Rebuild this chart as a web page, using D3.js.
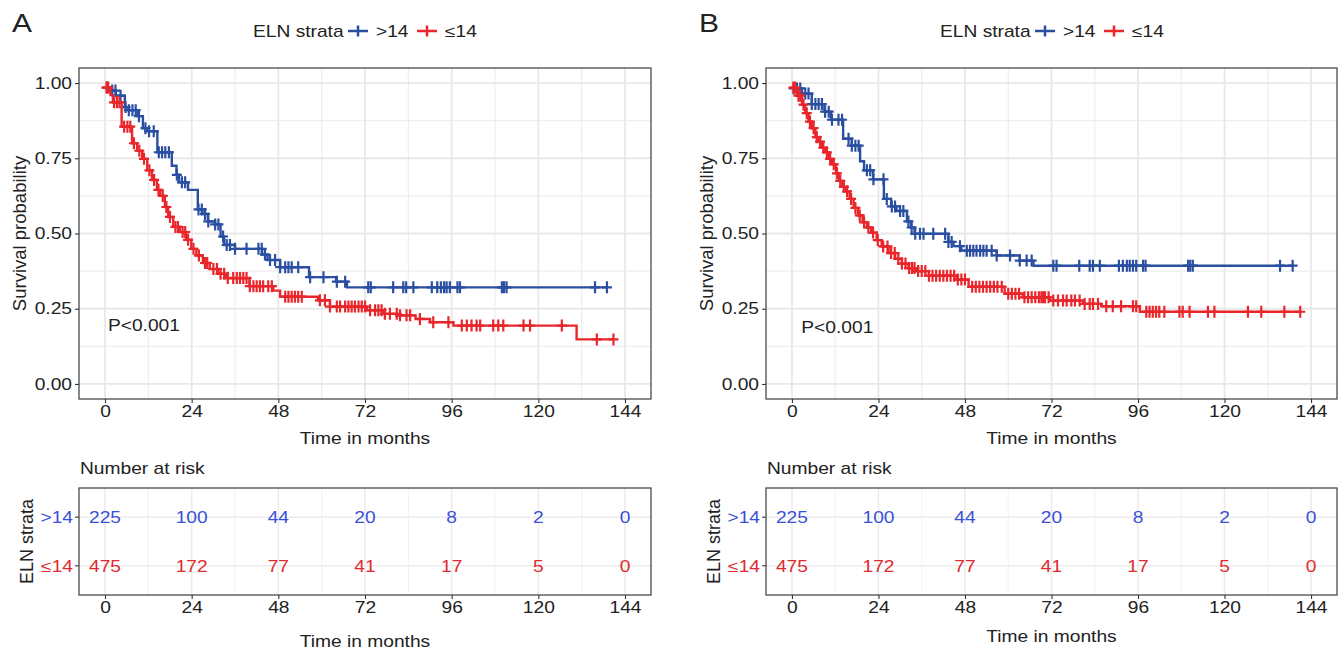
<!DOCTYPE html>
<html>
<head>
<meta charset="utf-8">
<script src="https://cdn.jsdelivr.net/npm/d3@7"></script>
<style>
  body { margin: 0; background: #fff; }
  svg text { font-family: "Liberation Sans", Arial, Helvetica, sans-serif; }
</style>
</head>
<body>
<div id="chart"></div>
<script>
// shared values
const months = [0, 24, 48, 72, 96, 120, 144]
const survTicks = [0, 0.25, 0.5, 0.75, 1]
const strata = [">14", "≤14"]
const riskHigh = [225, 100, 44, 20, 8, 2, 0]
const riskLow = [475, 172, 77, 41, 17, 5, 0]
const pLabel = "P<0.001"

// panel A, ELN > 14
const aHighTime = [0, 1.5, 3, 5.5, 6.5, 9, 10.5, 12, 14.5, 18.5, 19.8, 20.5, 23, 25.7, 27, 28.5, 30.5, 32, 33, 36, 43.5, 45, 48.5, 56.5, 64, 67]
const aHighSurv = [0.985, 0.975, 0.958, 0.92, 0.91, 0.89, 0.85, 0.84, 0.77, 0.725, 0.695, 0.67, 0.645, 0.58, 0.565, 0.54, 0.53, 0.49, 0.462, 0.449, 0.43, 0.412, 0.388, 0.355, 0.34, 0.321]
const aHighCens = [0.6, 2, 2.9, 4.3, 5.7, 6.6, 7.6, 8.5, 9.4, 11.2, 12.2, 13.5, 14.9, 15.8, 16.7, 17.7, 19.9, 21.3, 22.2, 25.9, 26.8, 27.7, 28.6, 30.5, 31.4, 32.7, 33.7, 34.6, 36, 39.2, 42.5, 43.4, 44.3, 45.7, 47.1, 48.5, 49.9, 50.8, 51.7, 53.5, 56.8, 60.5, 64.2, 66.5, 72.9, 73.6, 79.8, 82.6, 83.4, 85.4, 90.5, 92, 93, 93.9, 94.6, 95.5, 97.6, 98.3, 109.9, 110.5, 111.2, 135.7, 139]

// panel A, ELN <= 14
const aLowTime = [0, 1.5, 2.2, 4.6, 7.5, 8.9, 10.3, 11.7, 13, 14.4, 15.3, 16.6, 17.5, 18.9, 20.7, 22.5, 23.9, 25.3, 27.1, 29, 31.3, 33.5, 40, 46.6, 48.5, 59, 62.3, 72.5, 77, 81, 86, 90, 96.5, 130.6]
const aLowSurv = [0.985, 0.96, 0.936, 0.855, 0.8, 0.775, 0.748, 0.71, 0.678, 0.645, 0.625, 0.588, 0.555, 0.522, 0.505, 0.479, 0.449, 0.427, 0.402, 0.382, 0.366, 0.352, 0.325, 0.31, 0.29, 0.278, 0.257, 0.245, 0.233, 0.228, 0.216, 0.205, 0.194, 0.148]
const aLowCens = [0.4, 0.9, 2.5, 3.3, 4, 5.3, 6.2, 7, 8, 9.5, 10.8, 12.3, 13.6, 14.8, 16, 17, 18, 19.5, 20.2, 21.5, 22.2, 23, 24.5, 26, 27.7, 28.3, 30, 31, 32, 33, 34, 35.5, 36.5, 37.4, 38.3, 39.2, 40.1, 41.1, 42, 42.9, 43.8, 45.2, 46.2, 49.9, 50.8, 51.7, 52.6, 53.5, 54.5, 59.5, 60.9, 62.3, 64.2, 65.1, 66.5, 67.4, 68.3, 69.2, 70.2, 71.1, 72, 73.4, 74.8, 75.7, 76.6, 77.5, 78.9, 80.8, 81.7, 83.5, 84.5, 87.2, 90.9, 95.1, 98.8, 100.2, 101.5, 102.9, 103.9, 107.5, 108.9, 110.3, 115.9, 117.7, 126.5, 136.2, 140.8]

// panel B, ELN > 14
const bHighTime = [0, 2.8, 5.5, 9, 10.8, 14.2, 16.6, 18.9, 20, 22.5, 25.5, 27.5, 29, 31.9, 33, 34, 43.4, 44.8, 47, 56.8, 63.2, 67]
const bHighSurv = [0.982, 0.965, 0.93, 0.905, 0.878, 0.815, 0.792, 0.74, 0.71, 0.68, 0.615, 0.59, 0.575, 0.54, 0.52, 0.499, 0.472, 0.458, 0.443, 0.427, 0.41, 0.393]
const bHighCens = [0.5, 1.4, 2.3, 3.7, 4.6, 5.5, 6.5, 7.4, 8.3, 9.2, 10.2, 11.1, 12.9, 13.9, 15.7, 16.6, 17.6, 18.5, 20.8, 21.7, 22.6, 25.4, 26.3, 27.7, 28.6, 30, 30.9, 32.3, 33.2, 34.2, 35.5, 36.5, 39.2, 42.5, 43.4, 44.3, 46.6, 48.5, 49.4, 50.3, 51.2, 52.2, 53.1, 54, 55.4, 56.8, 60.5, 63.2, 65.1, 66.5, 72.5, 73.4, 79.7, 82.6, 83.5, 85.4, 90.7, 91.8, 92.9, 93.7, 94.6, 95.5, 97.4, 98.1, 109.9, 110.5, 111.2, 135.4, 138.9]

// panel B, ELN <= 14
const bLowTime = [0, 1.4, 2.8, 3.7, 4.6, 5.5, 6.5, 7.4, 8.3, 9.2, 10.2, 11.1, 12.2, 13, 14, 15, 16, 17.1, 18.3, 19.6, 20.8, 22, 23.5, 24.9, 26.8, 28.6, 30.5, 32.3, 34.5, 38, 45.7, 49, 59, 64, 71.5, 80.8, 85.8, 96.5]
const bLowSurv = [0.985, 0.958, 0.928, 0.9, 0.872, 0.85, 0.82, 0.805, 0.785, 0.77, 0.748, 0.73, 0.7, 0.675, 0.655, 0.64, 0.615, 0.585, 0.56, 0.537, 0.52, 0.503, 0.478, 0.457, 0.435, 0.416, 0.4, 0.385, 0.375, 0.36, 0.347, 0.323, 0.3, 0.288, 0.277, 0.266, 0.258, 0.24]
const bLowCens = [0.4, 0.9, 1.8, 2.3, 3.2, 4.1, 5, 6, 6.9, 7.8, 8.7, 9.7, 10.6, 11.6, 12.5, 13.4, 14.4, 15.3, 16.4, 17.6, 18.8, 20, 21.2, 22.5, 23.8, 25.3, 26.5, 27.5, 28.5, 29.5, 30.5, 31.5, 32.5, 33.3, 34, 35, 36, 37, 38, 39, 40, 41, 42, 43, 44, 45, 46, 47, 48, 50, 51, 52, 53, 54, 55, 56, 57, 58.2, 60, 61, 62, 63, 64.5, 65.5, 66.5, 67.5, 68.5, 69.2, 69.7, 70.2, 71.2, 72.5, 73.8, 75.2, 76.2, 77.5, 78.5, 79.8, 81.2, 82.6, 83.5, 84.9, 87.2, 89, 91.3, 94.6, 95.5, 98.3, 99.2, 100.1, 101, 101.9, 103.3, 107.5, 108.4, 110.3, 115.4, 117.2, 126.5, 130.2, 136.6, 141]

const lineColors = { high: "#2a4fa1", low: "#e8262b" }
const textColors = { high: "#3b50d8", low: "#e02a2f" }

const dimensions = {
  width: 1339,
  height: 652,
  plotTop: 68,
  plotBottom: 399,
  tableTop: 488,
  tableBottom: 595,
}

// the figure is stretched horizontally, so horizontal text is too
const SX = 1.2
const textFill = "#222"

const svg = d3
  .select("#chart")
  .append("svg")
  .attr("width", dimensions.width)
  .attr("height", dimensions.height)

function label(parent, x, y, txt, opts = {}) {
  const t = parent
    .append("text")
    .attr("transform", opts.rotate
      ? `translate(${x},${y}) rotate(-90)`
      : `translate(${x},${y}) scale(${opts.sx || SX},1)`)
    .attr("text-anchor", opts.anchor || "start")
    .attr("font-size", opts.size || 16)
    .attr("fill", opts.fill || textFill)
    .text(txt)
  return t
}

function survAt(time, surv, t) {
  return surv[Math.max(0, d3.bisectRight(time, t) - 1)]
}

function styleAxis(g) {
  g.select(".domain").remove()
  g.selectAll(".tick line").attr("stroke", "#333").attr("stroke-width", 1.1)
  g.selectAll(".tick text")
    .attr("font-size", 16)
    .attr("fill", textFill)
    .attr("font-family", '"Liberation Sans", Arial, sans-serif')
}

function drawPanel(p) {
  const xScale = d3.scaleLinear().domain([-7.2, 151.2]).range([p.left, p.right])
  const yScale = d3.scaleLinear().domain([-0.05, 1.05]).range([dimensions.plotBottom, dimensions.plotTop])
  const ctr = svg.append("g")
  const mid = (p.left + p.right) / 2

  // panel letter
  label(ctr, p.left - 67, 32, p.letter, { size: 25 })

  // legend
  const lg = ctr.append("g")
  label(lg, p.legendX, 37, "ELN strata")
  const keys = [
    { key: "high", text: strata[0], x: p.legendX + 105 },
    { key: "low", text: strata[1], x: p.legendX + 174 },
  ]
  keys.forEach(k => {
    lg.append("path")
      .attr("d", `M${k.x - 10},31H${k.x + 10}M${k.x},25.5V36.5`)
      .attr("stroke", lineColors[k.key])
      .attr("stroke-width", 2.5)
      .attr("fill", "none")
    label(lg, k.x + 18, 37, k.text)
  })

  // grid
  const minorX = d3.range(12, 144, 24)
  const minorY = d3.range(0.125, 1, 0.25)
  const grid = ctr.append("g")
  grid.selectAll(".mx").data(minorX).join("line")
    .attr("x1", d => xScale(d)).attr("x2", d => xScale(d))
    .attr("y1", dimensions.plotTop).attr("y2", dimensions.plotBottom)
    .attr("stroke", "#eeeeee").attr("stroke-width", 1.2)
  grid.selectAll(".my").data(minorY).join("line")
    .attr("y1", d => yScale(d)).attr("y2", d => yScale(d))
    .attr("x1", p.left).attr("x2", p.right)
    .attr("stroke", "#eeeeee").attr("stroke-width", 1.2)
  grid.selectAll(".Mx").data(months).join("line")
    .attr("x1", d => xScale(d)).attr("x2", d => xScale(d))
    .attr("y1", dimensions.plotTop).attr("y2", dimensions.plotBottom)
    .attr("stroke", "#e8e8e8").attr("stroke-width", 1.8)
  grid.selectAll(".My").data(survTicks).join("line")
    .attr("y1", d => yScale(d)).attr("y2", d => yScale(d))
    .attr("x1", p.left).attr("x2", p.right)
    .attr("stroke", "#e8e8e8").attr("stroke-width", 1.8)

  // curves
  const lineGen = d3.line()
    .x(d => xScale(d[0]))
    .y(d => yScale(d[1]))
    .curve(d3.curveStepAfter)

  p.series.forEach(s => {
    const end = d3.max(s.cens)
    const pts = s.time.map((t, i) => [t, s.surv[i]])
    pts.push([end, s.surv[s.surv.length - 1]])
    ctr.append("path")
      .attr("d", lineGen(pts))
      .attr("fill", "none")
      .attr("stroke", lineColors[s.key])
      .attr("stroke-width", 2.4)
    ctr.append("g")
      .selectAll("path")
      .data(s.cens)
      .join("path")
      .attr("transform", d => `translate(${xScale(d)},${yScale(survAt(s.time, s.surv, d))})`)
      .attr("d", "M-5,0H5M0,-6V6")
      .attr("stroke", lineColors[s.key])
      .attr("stroke-width", 2.2)
  })

  // p value
  label(ctr, xScale(p.pAt[0]), yScale(p.pAt[1]), pLabel)

  // border
  ctr.append("rect")
    .attr("x", p.left).attr("y", dimensions.plotTop)
    .attr("width", p.right - p.left).attr("height", dimensions.plotBottom - dimensions.plotTop)
    .attr("fill", "none").attr("stroke", "#4a4a4a").attr("stroke-width", 1.3)

  // axes
  const xAxisGroup = ctr.append("g")
    .attr("transform", `translate(0,${dimensions.plotBottom})`)
    .call(d3.axisBottom(xScale).tickValues(months).tickSize(4).tickPadding(3))
  styleAxis(xAxisGroup)
  xAxisGroup.selectAll(".tick text").attr("transform", `scale(${SX},1)`)

  const yAxisGroup = ctr.append("g")
    .attr("transform", `translate(${p.left},0)`)
    .call(d3.axisLeft(yScale).tickValues(survTicks).tickFormat(d3.format(".2f")).tickSize(4).tickPadding(3))
  styleAxis(yAxisGroup)
  yAxisGroup.selectAll(".tick text").attr("x", -7 / SX).attr("transform", `scale(${SX},1)`)

  label(ctr, mid, 444, "Time in months", { anchor: "middle" })
  label(ctr, p.left - 53, (dimensions.plotTop + dimensions.plotBottom) / 2, "Survival probability",
    { rotate: true, anchor: "middle", size: 18.5 })

  // risk table
  const rowScale = d3.scalePoint()
    .domain(strata)
    .range([dimensions.tableTop, dimensions.tableBottom])
    .padding(0.6)
  const tg = ctr.append("g")
  label(tg, p.left + 1, 474, "Number at risk")

  tg.selectAll(".tx").data(d3.range(0, 145, 12)).join("line")
    .attr("x1", d => xScale(d)).attr("x2", d => xScale(d))
    .attr("y1", dimensions.tableTop).attr("y2", dimensions.tableBottom)
    .attr("stroke", d => d % 24 === 0 ? "#ececec" : "#f2f2f2")
    .attr("stroke-width", d => d % 24 === 0 ? 1.6 : 1.1)
  tg.selectAll(".ty").data(strata).join("line")
    .attr("y1", d => rowScale(d)).attr("y2", d => rowScale(d))
    .attr("x1", p.left).attr("x2", p.right)
    .attr("stroke", "#ececec").attr("stroke-width", 1.6)

  const rows = [
    { key: "high", label: strata[0], values: riskHigh },
    { key: "low", label: strata[1], values: riskLow },
  ]
  rows.forEach(r => {
    const ry = rowScale(r.label)
    r.values.forEach((v, i) => {
      label(tg, xScale(months[i]), ry + 6, v, { anchor: "middle", fill: textColors[r.key] })
    })
    tg.append("line")
      .attr("x1", p.left - 4).attr("x2", p.left)
      .attr("y1", ry).attr("y2", ry)
      .attr("stroke", "#333").attr("stroke-width", 1.1)
    label(tg, p.left - 6, ry + 6, r.label, { anchor: "end", fill: textColors[r.key] })
  })

  tg.append("rect")
    .attr("x", p.left).attr("y", dimensions.tableTop)
    .attr("width", p.right - p.left).attr("height", dimensions.tableBottom - dimensions.tableTop)
    .attr("fill", "none").attr("stroke", "#4a4a4a").attr("stroke-width", 1.3)

  const tAxisGroup = tg.append("g")
    .attr("transform", `translate(0,${dimensions.tableBottom})`)
    .call(d3.axisBottom(xScale).tickValues(months).tickSize(4).tickPadding(3))
  styleAxis(tAxisGroup)
  tAxisGroup.selectAll(".tick text").attr("transform", `scale(${SX},1)`)

  label(tg, mid, p.tableTitleY, "Time in months", { anchor: "middle" })
  label(tg, p.left - 46, (dimensions.tableTop + dimensions.tableBottom) / 2, "ELN strata",
    { rotate: true, anchor: "middle", size: 18 })
}

drawPanel({
  letter: "A",
  left: 79,
  right: 651,
  legendX: 253,
  pAt: [0.8, 0.177],
  tableTitleY: 647,
  series: [
    { key: "high", time: aHighTime, surv: aHighSurv, cens: aHighCens },
    { key: "low", time: aLowTime, surv: aLowSurv, cens: aLowCens },
  ],
})

drawPanel({
  letter: "B",
  left: 766,
  right: 1337,
  legendX: 940,
  pAt: [2.6, 0.17],
  tableTitleY: 642,
  series: [
    { key: "high", time: bHighTime, surv: bHighSurv, cens: bHighCens },
    { key: "low", time: bLowTime, surv: bLowSurv, cens: bLowCens },
  ],
})
</script>
</body>
</html>
